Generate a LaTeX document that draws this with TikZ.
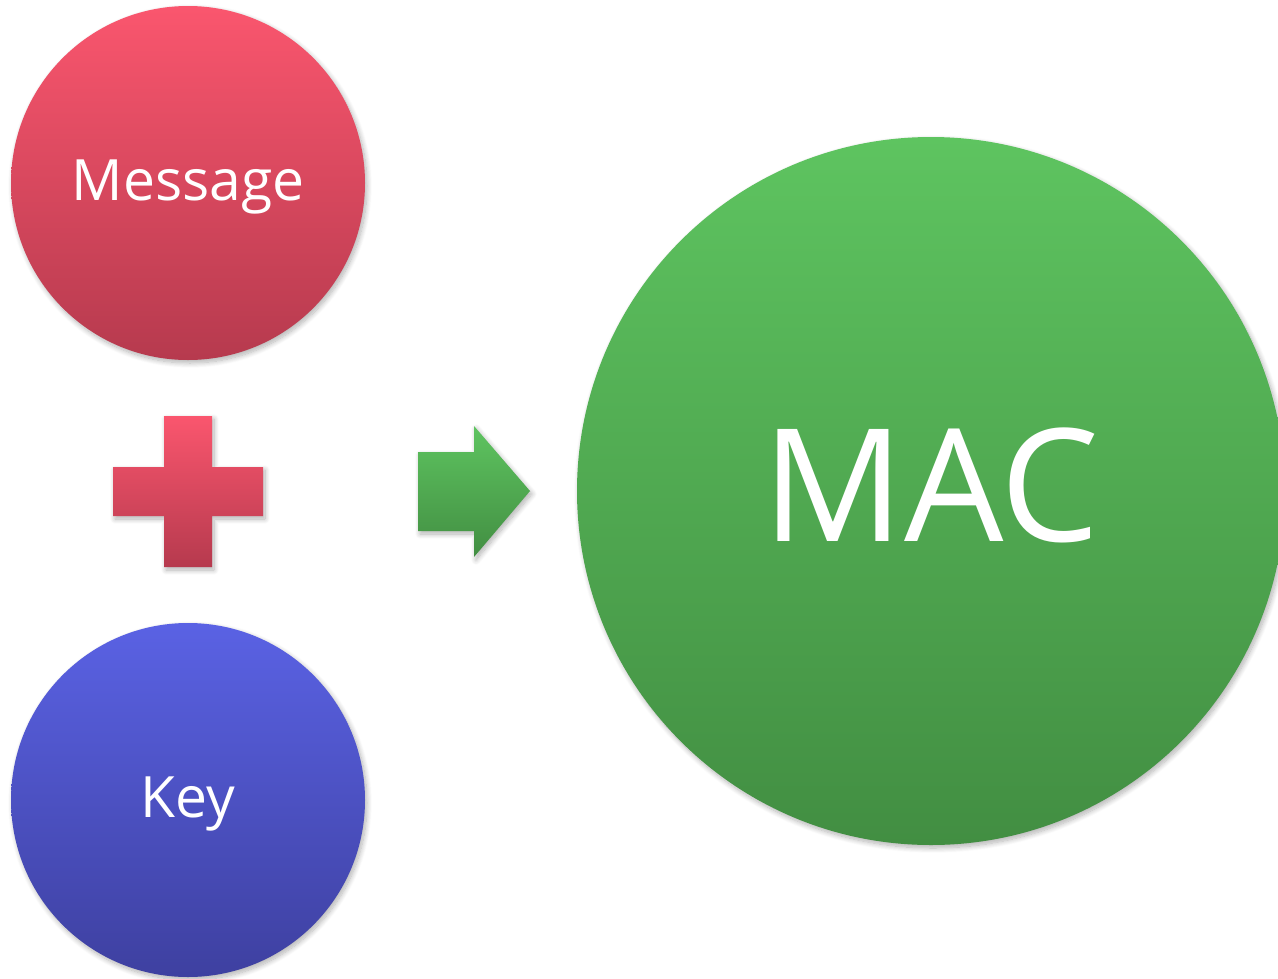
\documentclass[tikz,border=0pt]{standalone}
\usepackage{fontspec}
\setmainfont{Open Sans}
\usetikzlibrary{shadows.blur}
\definecolor{redtop}{RGB}{250,86,110}
\definecolor{redbot}{RGB}{182,58,78}
\definecolor{bluetop}{RGB}{90,98,228}
\definecolor{bluebot}{RGB}{62,64,160}
\definecolor{greentop}{RGB}{94,196,96}
\definecolor{greenbot}{RGB}{66,142,66}
\tikzset{
  softshadow/.style={blur shadow={shadow xshift=2pt, shadow yshift=-3pt, shadow blur radius=5pt, shadow blur steps=10, shadow opacity=30}},
  ball/.style={circle, inner sep=0pt, text=white, softshadow},
  redfill/.style={top color=redtop, bottom color=redbot},
  bluefill/.style={top color=bluetop, bottom color=bluebot},
  greenfill/.style={top color=greentop, bottom color=greenbot},
}
% shift a label vertically while keeping its box centred
\newcommand{\nudge}[2]{\raisebox{#1}[\height][\depth]{#2}}
\begin{document}
\begin{tikzpicture}[x=1pt, y=-1pt]
  \useasboundingbox (0,0) rectangle (1278,978);
  % input circles
  \node[ball, redfill, minimum size=354pt, font=\fontsize{57}{60}\selectfont] (msg) at (188,183) {\nudge{-3.5pt}{Message}};
  \node[ball, bluefill, minimum size=354pt, font=\fontsize{57}{60}\selectfont] (key) at (188,800) {\nudge{-4pt}{Key}};
  % result circle
  \node[ball, greenfill, minimum size=708pt, font=\fontsize{157}{165}\selectfont] (mac) at (931,491) {\nudge{5.5pt}{MAC}};
  % plus sign
  \path[redfill, softshadow] (164,416) -- (212,416) -- (212,467) -- (263,467) -- (263,516)
     -- (212,516) -- (212,567) -- (164,567) -- (164,516) -- (113,516) -- (113,467)
     -- (164,467) -- cycle;
  % arrow
  \path[greenfill, softshadow] (418,452) -- (474,452) -- (474,426) -- (530,491)
     -- (474,557) -- (474,531) -- (418,531) -- cycle;
\end{tikzpicture}
\end{document}
